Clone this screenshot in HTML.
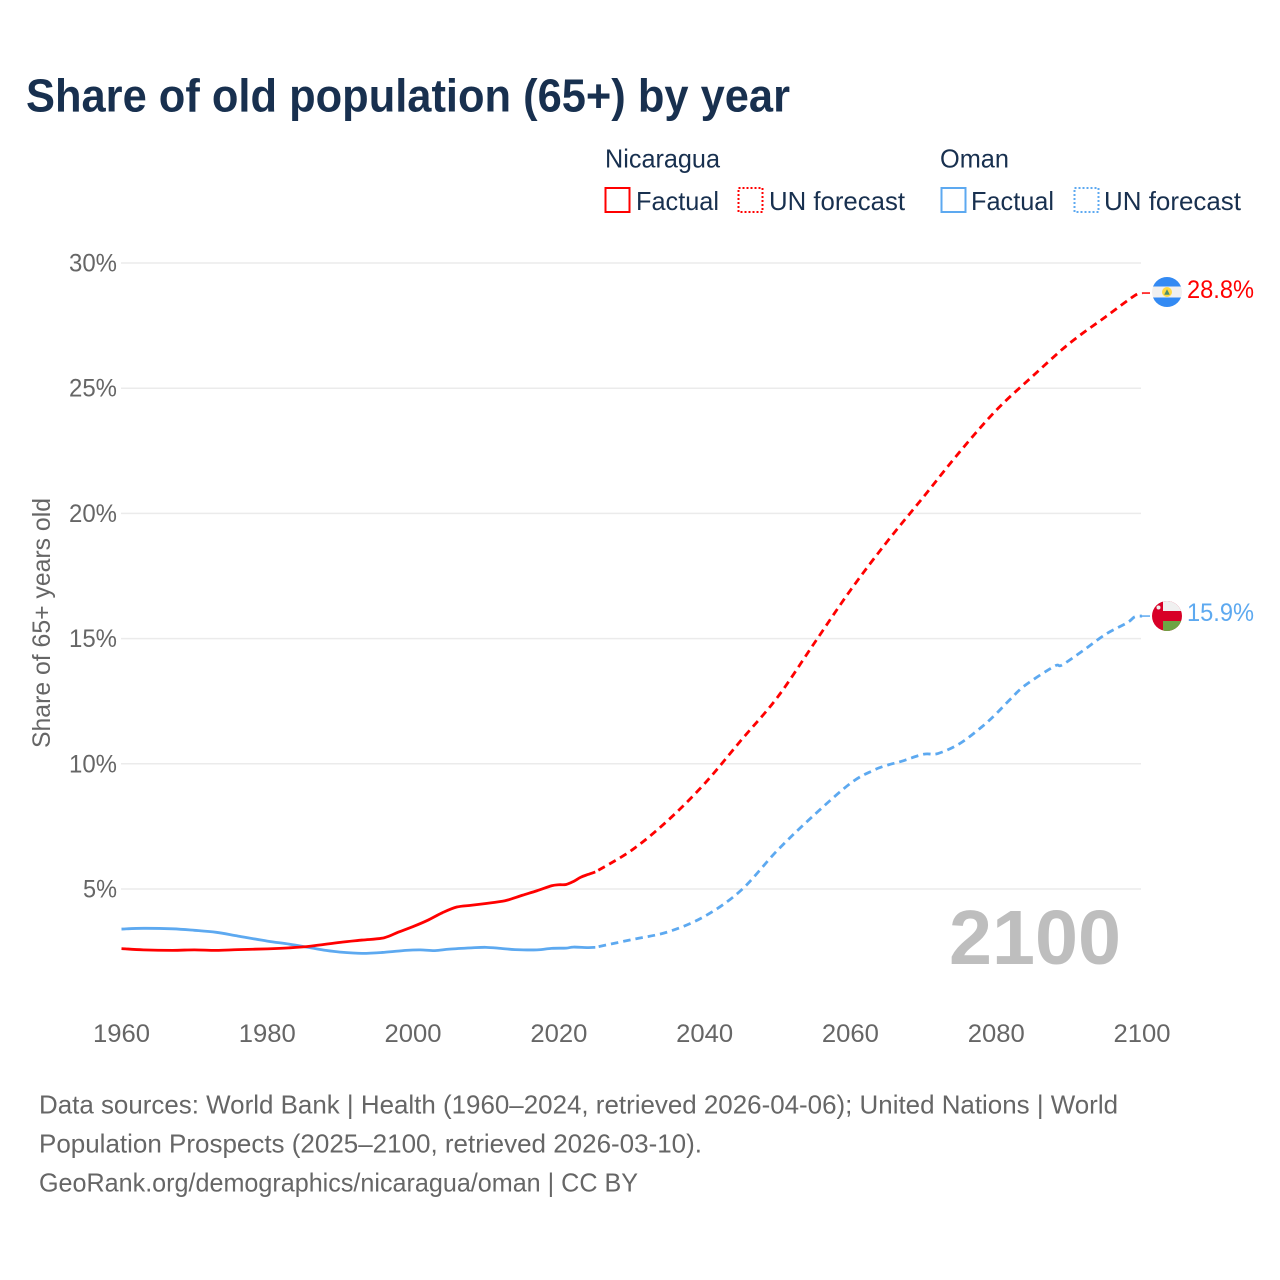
<!DOCTYPE html>
<html lang="en">
<head>
<meta charset="utf-8">
<title>Share of old population (65+) by year</title>
<style>
html,body{margin:0;padding:0;background:#fff;width:1280px;height:1280px;overflow:hidden}
svg{display:block;position:absolute;left:0;top:0}
text{font-family:"Liberation Sans",sans-serif}
</style>
</head>
<body>
<svg id="chart" xmlns="http://www.w3.org/2000/svg" width="1280" height="1280" viewBox="0 0 1280 1280">
  <text x="26" y="111.5" font-size="46" font-weight="700" fill="#18304f" textLength="764" lengthAdjust="spacingAndGlyphs">Share of old population (65+) by year</text>

  <g font-size="26" fill="#18304f">
    <text x="605" y="167.5" textLength="115" lengthAdjust="spacingAndGlyphs">Nicaragua</text>
    <rect x="605.5" y="188" width="24" height="24" fill="none" stroke="#ff0000" stroke-width="2"/>
    <text x="636" y="210" textLength="83" lengthAdjust="spacingAndGlyphs">Factual</text>
    <rect x="738.5" y="188" width="24" height="24" fill="none" stroke="#ff0000" stroke-width="2" stroke-dasharray="2 2"/>
    <text x="769" y="210" textLength="136" lengthAdjust="spacingAndGlyphs">UN forecast</text>

    <text x="940" y="167.5" textLength="69" lengthAdjust="spacingAndGlyphs">Oman</text>
    <rect x="941.5" y="188" width="24" height="24" fill="none" stroke="#5da9f0" stroke-width="2"/>
    <text x="971" y="210" textLength="83" lengthAdjust="spacingAndGlyphs">Factual</text>
    <rect x="1074.5" y="188" width="24" height="24" fill="none" stroke="#5da9f0" stroke-width="2" stroke-dasharray="2 2"/>
    <text x="1104" y="210" textLength="137" lengthAdjust="spacingAndGlyphs">UN forecast</text>
  </g>

  <text transform="translate(50 623) rotate(-90)" text-anchor="middle" font-size="25" fill="#666666" textLength="250" lengthAdjust="spacingAndGlyphs">Share of 65+ years old</text>

  <g id="grid"></g>
  <g id="yticks"></g>
  <g id="xticks"></g>

  <text x="949" y="964" font-size="77" font-weight="700" fill="#bebebe" textLength="172" lengthAdjust="spacingAndGlyphs">2100</text>

  <g id="series"></g>

  <defs>
    <clipPath id="clip-nic"><circle cx="1167" cy="292" r="15"/></clipPath>
    <clipPath id="clip-oman"><circle cx="1167" cy="616" r="15"/></clipPath>
  </defs>
  <g clip-path="url(#clip-nic)">
    <rect x="1152" y="277" width="30" height="30" fill="#f0f0f0"/>
    <rect x="1152" y="277" width="30" height="9.5" fill="#338af3"/>
    <rect x="1152" y="297.5" width="30" height="9.5" fill="#338af3"/>
    <circle cx="1167" cy="292" r="5" fill="#ffda44"/>
    <path d="M1164.2 294.8 L1167 289.2 L1169.8 294.8 Z" fill="#4f8f6a"/>
  </g>
  <g clip-path="url(#clip-oman)">
    <rect x="1152" y="601" width="30" height="30" fill="#d80027"/>
    <rect x="1163" y="601" width="19" height="10" fill="#f0f0f0"/>
    <rect x="1163" y="621" width="19" height="10" fill="#6da544"/>
    <circle cx="1158.5" cy="607.5" r="2" fill="#f0f0f0"/>
  </g>

  <text id="end-nic" x="1187" y="298" font-size="25" fill="#ff0000" textLength="67" lengthAdjust="spacingAndGlyphs">28.8%</text>
  <text id="end-oman" x="1187" y="621" font-size="25" fill="#5da9f0" textLength="67" lengthAdjust="spacingAndGlyphs">15.9%</text>

  <g font-size="26" fill="#666666">
    <text x="39" y="1113.5" textLength="1079" lengthAdjust="spacingAndGlyphs">Data sources: World Bank | Health (1960–2024, retrieved 2026-04-06); United Nations | World</text>
    <text x="39" y="1152.5" textLength="663" lengthAdjust="spacingAndGlyphs">Population Prospects (2025–2100, retrieved 2026-03-10).</text>
    <text x="39" y="1191.5" textLength="599" lengthAdjust="spacingAndGlyphs">GeoRank.org/demographics/nicaragua/oman | CC BY</text>
  </g>
</svg>

<script>
const xTickYears = [1960, 1980, 2000, 2020, 2040, 2060, 2080, 2100];
const yTickValues = [5, 10, 15, 20, 25, 30];

const nicFactYears = [1960, 1963, 1967, 1970, 1973, 1976, 1980, 1983, 1986, 1990, 1993, 1996, 1998, 2000, 2002, 2004, 2006, 2008, 2010, 2012, 2013, 2015, 2017, 2019, 2020, 2021, 2022, 2023, 2024, 2025];
const nicFactValues = [2.62, 2.57, 2.55, 2.57, 2.55, 2.58, 2.61, 2.65, 2.72, 2.87, 2.96, 3.05, 3.28, 3.5, 3.75, 4.05, 4.28, 4.35, 4.42, 4.5, 4.56, 4.75, 4.93, 5.13, 5.17, 5.18, 5.3, 5.47, 5.58, 5.68];
const omanFactYears = [1960, 1963, 1967, 1970, 1973, 1976, 1980, 1983, 1986, 1988, 1990, 1993, 1996, 1999, 2001, 2003, 2005, 2008, 2010, 2012, 2014, 2017, 2019, 2021, 2022, 2024, 2025];
const omanFactValues = [3.4, 3.43, 3.41, 3.35, 3.27, 3.12, 2.92, 2.8, 2.65, 2.55, 2.48, 2.43, 2.47, 2.55, 2.57, 2.54, 2.6, 2.65, 2.67, 2.63, 2.58, 2.57, 2.63, 2.64, 2.68, 2.66, 2.67];

const nicFcYears = [2025, 2030, 2035, 2040, 2045, 2050, 2055, 2060, 2065, 2070, 2075, 2080, 2085, 2090, 2095, 2099, 2100];
const nicFcValues = [5.68, 6.55, 7.75, 9.21, 10.94, 12.66, 14.8, 16.93, 18.86, 20.65, 22.46, 24.12, 25.48, 26.78, 27.85, 28.7, 28.8];
const omanFcYears = [2025, 2030, 2035, 2040, 2045, 2050, 2055, 2060, 2063, 2065, 2067, 2070, 2072, 2075, 2078, 2080, 2082, 2084, 2088, 2089, 2092, 2095, 2098, 2099, 2100];
const omanFcValues = [2.67, 2.98, 3.29, 3.91, 4.95, 6.55, 7.95, 9.22, 9.72, 9.94, 10.1, 10.38, 10.41, 10.81, 11.47, 12.0, 12.6, 13.14, 13.9, 13.94, 14.54, 15.17, 15.64, 15.87, 15.9];

const NS = 'http://www.w3.org/2000/svg';
const xAxis = function (year) { return 121.5 + (year - 1960) * (1020.5 / 140); };
const yAxis = function (v) { return 1014.2 - v * 25.04; };

function linePath(years, values) {
  const p = years.map(function (yr, i) { return [xAxis(yr), yAxis(values[i])]; });
  let d = 'M' + p[0][0].toFixed(2) + ' ' + p[0][1].toFixed(2);
  for (let i = 0; i < p.length - 1; i++) {
    const a = p[Math.max(i - 1, 0)], b = p[i], c = p[i + 1], e = p[Math.min(i + 2, p.length - 1)];
    const c1x = b[0] + (c[0] - a[0]) / 6, c1y = b[1] + (c[1] - a[1]) / 6;
    const c2x = c[0] - (e[0] - b[0]) / 6, c2y = c[1] - (e[1] - b[1]) / 6;
    d += 'C' + c1x.toFixed(2) + ' ' + c1y.toFixed(2) + ' ' + c2x.toFixed(2) + ' ' + c2y.toFixed(2) + ' ' + c[0].toFixed(2) + ' ' + c[1].toFixed(2);
  }
  return d;
}

const grid = document.getElementById('grid');
const yticks = document.getElementById('yticks');
yTickValues.forEach(function (v) {
  const ln = document.createElementNS(NS, 'line');
  
  
  ln.setAttribute('x1', 121);
  ln.setAttribute('x2', 1141);
  ln.setAttribute('y1', yAxis(v));
  ln.setAttribute('y2', yAxis(v));
  ln.setAttribute('stroke', '#ebebeb');
  ln.setAttribute('stroke-width', 1.5);
  grid.appendChild(ln);

  const t = document.createElementNS(NS, 'text');
  
  
  t.setAttribute('x', 117);
  t.setAttribute('y', yAxis(v) + 8.5);
  t.setAttribute('text-anchor', 'end');
  t.setAttribute('font-size', 25);
  t.setAttribute('fill', '#666666');
  t.setAttribute('textLength', v < 10 ? 34 : 48);
  t.setAttribute('lengthAdjust', 'spacingAndGlyphs');
  t.textContent = v + '%';
  yticks.appendChild(t);
});

const xticks = document.getElementById('xticks');
xTickYears.forEach(function (yr) {
  const t = document.createElementNS(NS, 'text');
  
  
  t.setAttribute('x', xAxis(yr));
  t.setAttribute('y', 1042);
  t.setAttribute('text-anchor', 'middle');
  t.setAttribute('font-size', 25);
  t.setAttribute('fill', '#666666');
  t.setAttribute('textLength', 57);
  t.setAttribute('lengthAdjust', 'spacingAndGlyphs');
  t.textContent = String(yr);
  xticks.appendChild(t);
});

const seriesGroup = document.getElementById('series');
function addLine(name, years, values, color, dashed) {
  const path = document.createElementNS(NS, 'path');
  
  
  path.setAttribute('d', linePath(years, values));
  path.setAttribute('fill', 'none');
  path.setAttribute('stroke', color);
  path.setAttribute('stroke-width', 2.8);
  path.setAttribute('stroke-linejoin', 'round');
  if (dashed) {
    path.setAttribute('stroke-dasharray', '7.5 5');
    path.setAttribute('stroke-dashoffset', '9');
  }
  seriesGroup.appendChild(path);
}
function addStub(name, lastValue, color) {
  const stub = document.createElementNS(NS, 'line');
  
  
  stub.setAttribute('x1', xAxis(2100));
  stub.setAttribute('x2', xAxis(2100) + 8);
  stub.setAttribute('y1', yAxis(lastValue));
  stub.setAttribute('y2', yAxis(lastValue));
  stub.setAttribute('stroke', color);
  stub.setAttribute('stroke-width', 1.5);
  seriesGroup.appendChild(stub);
}
addLine('oman-factual-line', omanFactYears, omanFactValues, '#5da9f0', false);
addLine('oman-forecast-line', omanFcYears, omanFcValues, '#5da9f0', true);
addLine('nicaragua-factual-line', nicFactYears, nicFactValues, '#ff0000', false);
addLine('nicaragua-forecast-line', nicFcYears, nicFcValues, '#ff0000', true);
addStub('oman-end-connector', omanFcValues[omanFcValues.length - 1], '#5da9f0');
addStub('nicaragua-end-connector', nicFcValues[nicFcValues.length - 1], '#ff0000');
</script>
</body>
</html>
